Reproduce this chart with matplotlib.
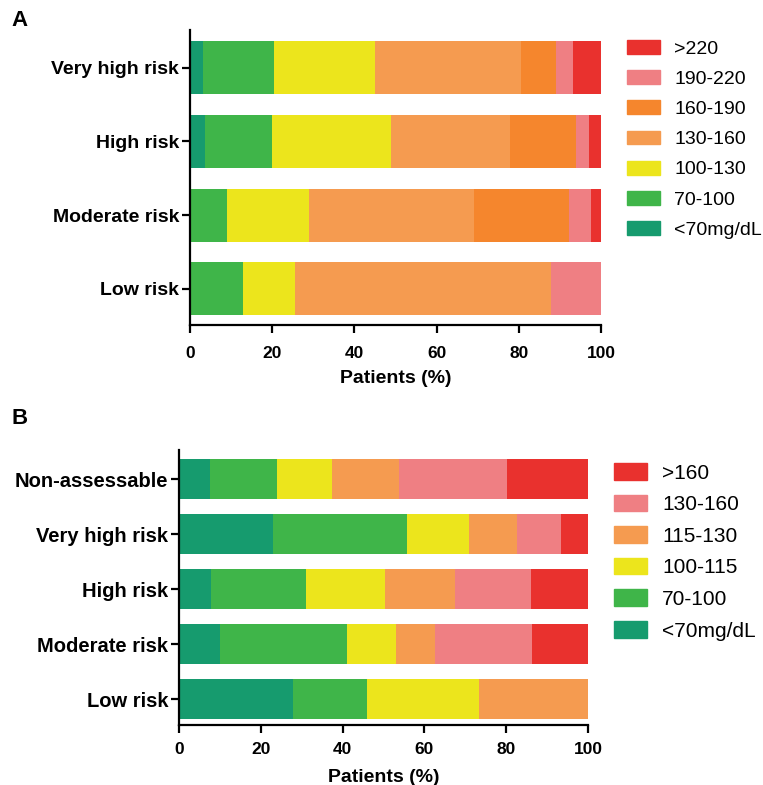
import matplotlib.pyplot as plt
from matplotlib.patches import Patch
import numpy as np

plt.rcParams['font.family'] = ['Liberation Sans', 'DejaVu Sans']

# Panel A: LDL-C distribution (mg/dL) by risk category
cats_a = ['Low risk', 'Moderate risk', 'High risk', 'Very high risk']
labels_a = ['<70mg/dL', '70-100', '100-130', '130-160', '160-190', '190-220', '>220']
vals_a = {
    '<70mg/dL': [0.0, 0.0, 3.6, 3.2],
    '70-100':   [13.0, 9.1, 16.3, 17.3],
    '100-130':  [12.5, 19.9, 29.0, 24.4],
    '130-160':  [62.3, 40.0, 29.0, 35.6],
    '160-190':  [0.0, 23.1, 16.0, 8.5],
    '190-220':  [12.2, 5.4, 3.3, 4.3],
    '>220':     [0.0, 2.5, 2.8, 6.7],
}

# Panel B
cats_b = ['Low risk', 'Moderate risk', 'High risk', 'Very high risk', 'Non-assessable']
labels_b = ['<70mg/dL', '70-100', '100-115', '115-130', '130-160', '>160']
vals_b = {
    '<70mg/dL': [27.8, 10.0, 7.8, 22.9, 7.6],
    '70-100':   [18.2, 31.1, 23.3, 32.9, 16.4],
    '100-115':  [27.3, 11.9, 19.3, 15.2, 13.4],
    '115-130':  [26.7, 9.7, 17.2, 11.7, 16.4],
    '130-160':  [0.0, 23.6, 18.5, 10.6, 26.3],
    '>160':     [0.0, 13.7, 13.9, 6.7, 19.9],
}

teal = '#169b6e'
green = '#3fb549'
yellow = '#ece51c'
lorange = '#f59b50'
orange = '#f5862d'
pink = '#ef7f83'
red = '#e9312e'
colors_a = [teal, green, yellow, lorange, orange, pink, red]
colors_b = [teal, green, yellow, lorange, pink, red]

W, H = 763, 785
fig = plt.figure(figsize=(W / 100, H / 100), dpi=100)


def panel(rect, cats, labels, vals, colors, bar_h, ylim, ylab_fs, xt_fs, xpad, lpad,
          leg_anchor, leg_fs, leg_space, hl, hh):
    ax = fig.add_axes(rect)
    y = np.arange(len(cats))
    left = np.zeros(len(cats))
    for lab, col in zip(labels, colors):
        v = np.array(vals[lab])
        ax.barh(y, v, left=left, height=bar_h, color=col, edgecolor='none')
        left += v
    ax.set_xlim(0, 100)
    ax.set_ylim(*ylim)
    ax.set_yticks(y)
    ax.set_yticklabels(cats, fontsize=ylab_fs, fontweight='bold')
    ax.set_xticks(np.arange(0, 101, 20))
    ax.tick_params(axis='x', labelsize=xt_fs, width=1.6, length=5.8, pad=xpad)
    ax.tick_params(axis='y', width=1.6, length=5.8, pad=2)
    for t in ax.get_xticklabels():
        t.set_fontweight('bold')
    ax.set_xlabel('Patients (%)', fontsize=14, fontweight='bold', labelpad=lpad)
    for s in ['top', 'right']:
        ax.spines[s].set_visible(False)
    for s in ['left', 'bottom']:
        ax.spines[s].set_linewidth(1.6)
    handles = [Patch(color=c, label=l) for l, c in zip(labels, colors)][::-1]
    fig.legend(handles=handles, loc='upper left', bbox_to_anchor=leg_anchor,
               frameon=False, fontsize=leg_fs, handlelength=hl, handleheight=hh,
               labelspacing=leg_space, handletextpad=0.72, borderaxespad=0,
               borderpad=0)
    return ax


panel([190 / W, 1 - 325 / H, 411 / W, 295 / H], cats_a, labels_a, vals_a, colors_a,
      0.72, (-0.49, 3.51), 14, 12.5, 9.0, 6.5,
      (627 / W, 1 - 40 / H), 14, 0.64, 1.7, 0.72)
panel([179 / W, 1 - 725 / H, 409 / W, 275 / H], cats_b, labels_b, vals_b, colors_b,
      0.73, (-0.47, 4.53), 14.5, 12.5, 6.4, 8.7,
      (614 / W, 1 - 463 / H), 15, 0.58, 1.6, 0.85)

fig.text(20 / W, 1 - 20 / H, 'A', fontsize=16, fontweight='bold', va='center', ha='center')
fig.text(20 / W, 1 - 419 / H, 'B', fontsize=16, fontweight='bold', va='center', ha='center')

fig.savefig('out.png', dpi=100)
